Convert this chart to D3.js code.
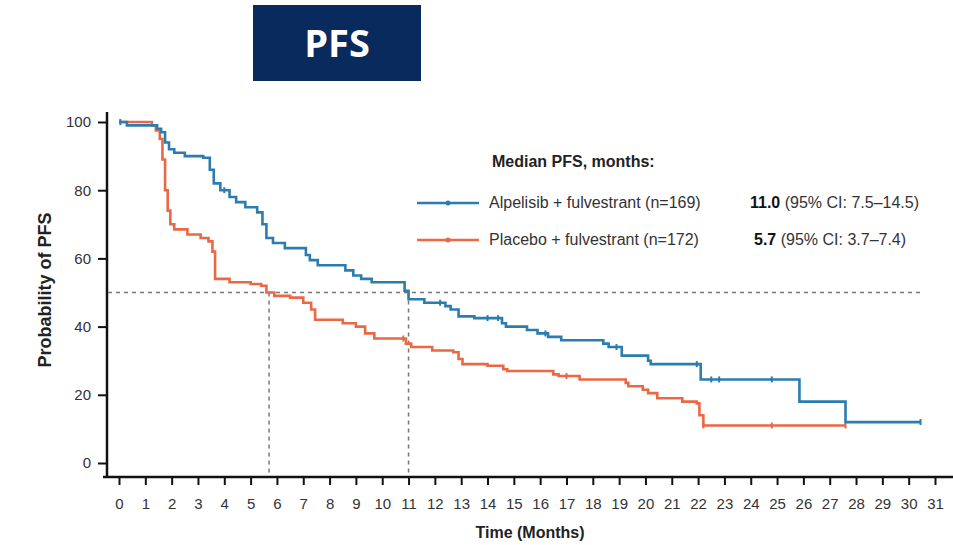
<!DOCTYPE html>
<html>
<head>
<meta charset="utf-8">
<script src="https://cdn.jsdelivr.net/npm/d3@7"></script>
<style>
  body { margin: 0; background: #fff; }
  text { font-family: "Liberation Sans", Arial, sans-serif; }
</style>
</head>
<body>
<script>
const W = 953, H = 545;

// tick values
const monthTicks = d3.range(0, 32);
const probTicks = [0, 20, 40, 60, 80, 100];

// Alpelisib + fulvestrant
const alpTime = [0, 0.3, 1.45, 1.6, 1.75, 1.9, 2.1, 2.5, 3.2, 3.45, 3.6, 3.85, 4.2, 4.45, 4.8, 5.25, 5.45, 5.6, 5.85, 6.3,
  7.1, 7.25, 7.55, 8.6, 8.9, 9.2, 9.6, 10.85, 11.0, 11.6, 12.4, 12.6, 12.9, 13.5, 14.55, 14.7, 15.5, 15.9, 16.3, 16.8,
  18.4, 18.6, 19.1, 20.1, 20.2, 22.1, 25.85, 27.6, 30.45];
const alpProb = [100, 99, 98, 97, 94, 92, 91, 90, 89.5, 86, 82, 80, 78, 76.5, 75, 73.5, 70, 66, 64.5, 63,
  61, 59.5, 58, 56.5, 55, 54, 53, 50.5, 48, 47, 46, 45, 43, 42.5, 41, 40, 39, 38, 37, 36,
  35, 34, 31.5, 30, 29, 24.5, 18, 12, 12];
const alpCensor = [0.05, 4.0, 12.2, 14.0, 14.4, 16.2, 18.9, 21.95, 22.5, 22.8, 24.8, 30.45];

// Placebo + fulvestrant
const plaTime = [0, 1.25, 1.4, 1.55, 1.65, 1.75, 1.85, 1.95, 2.1, 2.6, 3.1, 3.4, 3.55, 3.65, 4.2, 5.0, 5.4, 5.6, 5.9, 6.5,
  7.0, 7.3, 7.45, 8.5, 9.0, 9.35, 9.7, 10.9, 11.1, 11.9, 12.7, 12.9, 13.05, 14.0, 14.6, 14.75, 16.5, 16.7, 17.5, 19.25,
  19.35, 19.9, 20.1, 20.45, 21.4, 21.95, 22.05, 22.2, 27.6];
const plaProb = [100, 99, 97.5, 95, 89, 80, 74, 70, 68.5, 67, 66, 65, 62, 54, 53, 52.5, 52, 50, 49, 48.5,
  47, 45, 42, 41, 40, 38, 36.5, 35, 34, 33, 32.5, 30.5, 29, 28.5, 27.5, 27, 26, 25.5, 24.5, 23.5,
  22.5, 21.5, 20.5, 19, 18, 17.5, 14, 11, 11];
const plaCensor = [10.8, 17.0, 22.2, 24.8, 27.6];

const medians = [5.7, 11.0];

const blue = "#2b7db0", orange = "#ea6845";

const svg = d3.select("body").append("svg").attr("width", W).attr("height", H);

// title box
svg.append("rect").attr("x", 253).attr("y", 5).attr("width", 168).attr("height", 76).attr("fill", "#082a5c");
svg.append("text").attr("x", 337).attr("y", 57).attr("text-anchor", "middle")
  .style("font-family", "'Open Sans', sans-serif").style("font-weight", "bold")
  .style("font-size", "38px").attr("fill", "#fff").text("PFS");

let x = d3.scaleLinear().domain([0, 31]).range([119, 935]);
let y = d3.scaleLinear().domain([0, 100]).range([463, 122]);

// axes
let xAxis = d3.axisBottom(x).tickValues(monthTicks).tickSize(8).tickPadding(13);
let yAxis = d3.axisLeft(y).tickValues(probTicks).tickSize(9).tickPadding(7);

let gx = svg.append("g").attr("transform", "translate(0,477)").call(xAxis);
let gy = svg.append("g").attr("transform", "translate(107,0)").call(yAxis);
gx.select(".domain").remove();
gy.select(".domain").remove();
[gx, gy].forEach(g => {
  g.selectAll(".tick line").attr("stroke", "#111").attr("stroke-width", 2);
  g.selectAll(".tick text").attr("fill", "#333").style("font-size", "15px");
});
svg.append("line").attr("x1", 107).attr("x2", 107).attr("y1", 112).attr("y2", 478)
  .attr("stroke", "#111").attr("stroke-width", 2.5);
svg.append("line").attr("x1", 103).attr("x2", W).attr("y1", 477).attr("y2", 477)
  .attr("stroke", "#111").attr("stroke-width", 2.5);

svg.append("text").attr("x", 530).attr("y", 538).attr("text-anchor", "middle")
  .style("font-weight", "bold").style("font-size", "16px").attr("fill", "#222").text("Time (Months)");
svg.append("text").attr("transform", "translate(51,290) rotate(-90)").attr("text-anchor", "middle")
  .style("font-weight", "bold").style("font-size", "18px").attr("fill", "#222").text("Probability of PFS");

// median reference lines
let dash = g => g.attr("stroke", "#777").attr("stroke-width", 1.5).attr("stroke-dasharray", "4,4");
svg.append("line").attr("x1", 108).attr("x2", x(30.45)).attr("y1", y(50)).attr("y2", y(50)).call(dash);
medians.forEach(m => {
  svg.append("line").attr("x1", x(m)).attr("x2", x(m)).attr("y1", y(50)).attr("y2", 476).call(dash);
});

// curves
let line = d3.line().x(d => x(d[0])).y(d => y(d[1])).curve(d3.curveStepAfter);
function stepAt(times, probs, t) {
  let i = d3.bisectRight(times, t) - 1;
  return probs[Math.max(0, i)];
}
function drawCurve(times, probs, censor, col) {
  let pts = times.map((t, i) => [t, probs[i]]);
  svg.append("path").attr("d", line(pts)).attr("fill", "none")
    .attr("stroke", col).attr("stroke-width", 2.6);
  svg.selectAll(null).data(censor).enter().append("line")
    .attr("x1", d => x(d)).attr("x2", d => x(d))
    .attr("y1", d => y(stepAt(times, probs, d)) - 3)
    .attr("y2", d => y(stepAt(times, probs, d)) + 3)
    .attr("stroke", col).attr("stroke-width", 2);
}
drawCurve(plaTime, plaProb, plaCensor, orange);
drawCurve(alpTime, alpProb, alpCensor, blue);

// legend
svg.append("text").attr("x", 492).attr("y", 167).style("font-weight", "bold")
  .style("font-size", "16px").attr("fill", "#222").text("Median PFS, months:");
let legendRows = [
  {col: blue, label: "Alpelisib + fulvestrant (n=169)", med: "11.0", ci: " (95% CI: 7.5\u201314.5)", y: 203, mx: 750},
  {col: orange, label: "Placebo + fulvestrant (n=172)", med: "5.7", ci: " (95% CI: 3.7\u20137.4)", y: 240, mx: 754}
];
legendRows.forEach(r => {
  svg.append("line").attr("x1", 417).attr("x2", 479).attr("y1", r.y).attr("y2", r.y)
    .attr("stroke", r.col).attr("stroke-width", 2.6);
  svg.append("circle").attr("cx", 448).attr("cy", r.y).attr("r", 2.5).attr("fill", r.col);
  svg.append("text").attr("x", 489).attr("y", r.y + 5).style("font-size", "16px")
    .attr("fill", "#333").text(r.label);
  let t = svg.append("text").attr("x", r.mx).attr("y", r.y + 5).style("font-size", "16px").attr("fill", "#333");
  t.append("tspan").style("font-weight", "bold").attr("fill", "#111").text(r.med);
  t.append("tspan").text(r.ci);
});
</script>
</body>
</html>
